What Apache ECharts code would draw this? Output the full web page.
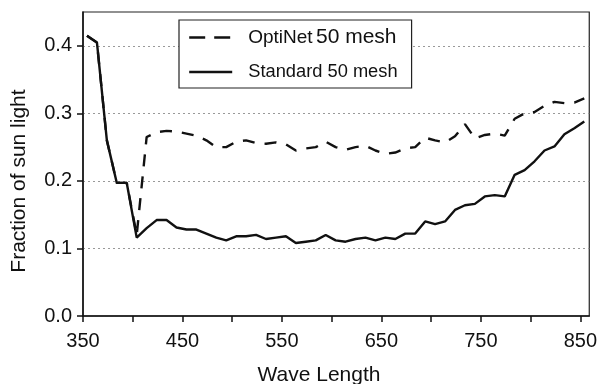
<!DOCTYPE html>
<html>
<head>
<meta charset="utf-8">
<script src="https://cdn.jsdelivr.net/npm/echarts@6/dist/echarts.min.js"></script>
<style>
  html, body { margin: 0; padding: 0; background: #ffffff; }
  #chart { width: 600px; height: 384px; }
</style>
</head>
<body>
<div id="chart"></div>
<script>
// wavelengths sampled every 10 nm
const wavelengths = [
  354, 364, 374, 384, 394, 404, 414, 424, 434, 444,
  454, 464, 474, 484, 494, 504, 514, 524, 534, 544,
  554, 564, 574, 584, 594, 604, 614, 624, 634, 644,
  654, 664, 674, 684, 694, 704, 714, 724, 734, 744,
  754, 764, 774, 784, 794, 804, 814, 824, 834, 844,
  854
];

const optiNet = [
  0.415, 0.405, 0.260, 0.197, 0.197, 0.120, 0.265, 0.272, 0.274, 0.273,
  0.270, 0.267, 0.260, 0.250, 0.250, 0.258, 0.260, 0.256, 0.255, 0.257,
  0.254, 0.245, 0.248, 0.250, 0.258, 0.250, 0.246, 0.250, 0.252, 0.245,
  0.240, 0.242, 0.248, 0.250, 0.264, 0.260, 0.257, 0.266, 0.284, 0.263,
  0.268, 0.270, 0.267, 0.292, 0.300, 0.302, 0.311, 0.317, 0.315, 0.316,
  0.322
];

const standard = [
  0.415, 0.405, 0.260, 0.197, 0.197, 0.116, 0.130, 0.142, 0.142, 0.131,
  0.128, 0.128, 0.122, 0.116, 0.112, 0.118, 0.118, 0.120, 0.114, 0.116,
  0.118, 0.108, 0.110, 0.112, 0.120, 0.112, 0.110, 0.114, 0.116, 0.112,
  0.116, 0.114, 0.122, 0.122, 0.140, 0.136, 0.140, 0.157, 0.164, 0.166,
  0.177, 0.179, 0.177, 0.209, 0.216, 0.229, 0.245, 0.251, 0.269, 0.278,
  0.288
];

const xTicks = [350, 400, 450, 500, 550, 600, 650, 700, 750, 800, 850];
const xLabels = [350, 450, 550, 650, 750, 850];
const yTicks = [0, 0.1, 0.2, 0.3, 0.4];

const font = 'Liberation Sans, Arial, Helvetica, sans-serif';
const chart = echarts.init(document.getElementById('chart'), null, { renderer: 'canvas' });

const option = {
  animation: false,
  backgroundColor: '#ffffff',
  textStyle: { fontFamily: font, color: '#111' },
  grid: {
    left: 83, right: 8, top: 12, bottom: 68,
    show: true,
    borderColor: '#222',
    borderWidth: 1.2
  },
  legend: {
    orient: 'vertical',
    left: 179,
    top: 20,
    padding: [7, 14, 7, 9],
    itemGap: 15,
    itemWidth: 43,
    itemHeight: 14,
    backgroundColor: '#ffffff',
    borderColor: '#222',
    borderWidth: 1.2,
    borderRadius: 0,
    itemStyle: { opacity: 0 },
    data: [
      { name: 'OptiNet 50 mesh', lineStyle: { type: [16, 9], width: 2.4 } },
      { name: 'Standard 50 mesh', lineStyle: { width: 2.4 } }
    ],
    formatter: function (name) {
      if (name === 'OptiNet 50 mesh') return '{a|OptiNet} {b|50 mesh}';
      return '{c|' + name + '}';
    },
    textStyle: {
      fontFamily: font,
      color: '#111',
      padding: [0, 0, 0, 11],
      rich: {
        a: { fontSize: 19, fontFamily: font, color: '#111' },
        b: { fontSize: 21, fontFamily: font, color: '#111' },
        c: { fontSize: 18.3, fontFamily: font, color: '#111' }
      }
    }
  },
  xAxis: {
    type: 'value',
    min: 350,
    max: 859,
    interval: 50,
    axisLine: { show: true, lineStyle: { color: '#111', width: 1.5 } },
    axisTick: {
      show: true,
      inside: false,
      length: 6,
      customValues: xTicks,
      lineStyle: { color: '#111', width: 1.5 }
    },
    axisLabel: {
      customValues: xLabels,
      fontSize: 20,
      fontFamily: font,
      color: '#111',
      margin: 15
    },
    splitLine: { show: false }
  },
  yAxis: {
    type: 'value',
    min: 0,
    max: 0.45,
    interval: 0.1,
    axisLine: { show: true, lineStyle: { color: '#111', width: 1.5 } },
    axisTick: {
      show: true,
      inside: false,
      length: 6,
      customValues: yTicks,
      lineStyle: { color: '#111', width: 1.5 }
    },
    axisLabel: {
      customValues: yTicks,
      fontSize: 20,
      fontFamily: font,
      color: '#111',
      margin: 11,
      formatter: function (v) { return v.toFixed(1); }
    },
    splitLine: {
      show: true,
      lineStyle: { color: '#999', width: 1.2, type: [2, 3] }
    }
  },
  graphic: [
    {
      type: 'text',
      x: 19,
      y: 181,
      rotation: Math.PI / 2,
      style: {
        text: 'Fraction of sun light',
        fontSize: 21,
        fontFamily: font,
        fill: '#111',
        textAlign: 'center',
        textVerticalAlign: 'middle'
      }
    },
    {
      type: 'text',
      x: 319,
      y: 375,
      style: {
        text: 'Wave Length',
        fontSize: 21,
        fontFamily: font,
        fill: '#111',
        textAlign: 'center',
        textVerticalAlign: 'middle'
      }
    }
  ],
  series: [
    {
      name: 'Standard 50 mesh',
      type: 'line',
      symbol: 'none',
      data: wavelengths.map((w, i) => [w, standard[i]]),
      lineStyle: { color: '#111', width: 2.4, type: 'solid' },
      itemStyle: { color: '#111' }
    },
    {
      name: 'OptiNet 50 mesh',
      type: 'line',
      symbol: 'none',
      data: wavelengths.map((w, i) => [w, optiNet[i]]),
      lineStyle: { color: '#111', width: 2.4, type: [12, 10] },
      itemStyle: { color: '#111' }
    }
  ]
};

chart.setOption(option);
</script>
</body>
</html>
